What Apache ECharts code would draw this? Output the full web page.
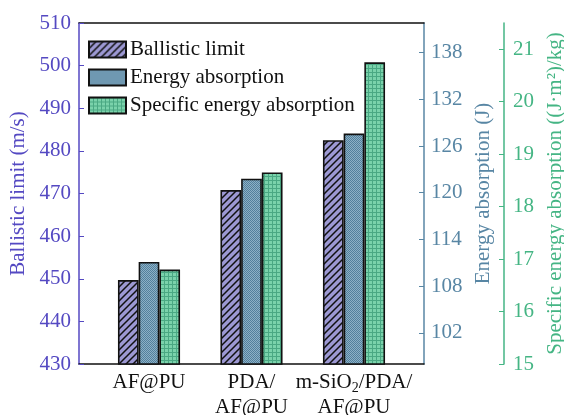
<!DOCTYPE html>
<html>
<head>
<meta charset="utf-8">
<script src="https://cdn.jsdelivr.net/npm/echarts@6/dist/echarts.min.js"></script>
<style>
  html, body { margin: 0; padding: 0; background: #fff; }
  #chart-container { width: 564px; height: 415px; }
</style>
</head>
<body>
<div id="chart-container"></div>
<script>
var categories = ['AF@PU', 'PDA/\nAF@PU', 'm-SiO2/PDA/\nAF@PU'];
var ballistic = [449.7, 470.8, 482.5];
var energy = [111.1, 121.8, 127.6];
var specific = [16.8, 18.65, 20.75];
var energyTicks = [102, 108, 114, 120, 126, 132, 138];
var specificTicks = [15, 16, 17, 18, 19, 20, 21];

var FONT = 'Liberation Serif, Times New Roman, serif';
var C_LEFT = '#5449c2';
var C_MID = '#5886a4';
var C_RIGHT = '#45b584';

// 填充图案
function makePattern(size, draw) {
  var c = document.createElement('canvas');
  c.width = size;
  c.height = size;
  draw(c.getContext('2d'), size);
  return { image: c, repeat: 'repeat' };
}

var hatch = makePattern(7, function (ctx, s) {
  ctx.fillStyle = '#9c98d3';
  ctx.fillRect(0, 0, s, s);
  ctx.strokeStyle = '#111';
  ctx.lineWidth = 1.5;
  ctx.beginPath();
  ctx.moveTo(-1, s + 1); ctx.lineTo(s + 1, -1);
  ctx.moveTo(-1, 1); ctx.lineTo(1, -1);
  ctx.moveTo(s - 1, s + 1); ctx.lineTo(s + 1, s - 1);
  ctx.stroke();
});

var dots = makePattern(2, function (ctx) {
  ctx.fillStyle = '#8db0c6';
  ctx.fillRect(0, 0, 2, 2);
  ctx.fillStyle = '#52809c';
  ctx.fillRect(0, 0, 1, 1);
  ctx.fillRect(1, 1, 1, 1);
});

var grid = makePattern(4, function (ctx) {
  ctx.fillStyle = '#7ad2ab';
  ctx.fillRect(0, 0, 4, 4);
  ctx.fillStyle = '#4aa883';
  ctx.fillRect(0, 0, 4, 1);
  ctx.fillRect(0, 0, 1, 4);
});

function pairs(arr) {
  return arr.map(function (v, i) { return [i, v]; });
}

var dom = document.getElementById('chart-container');
var myChart = echarts.init(dom);

var barBase = {
  type: 'bar',
  barWidth: 20.7,
  barGap: '0%',
  animation: false
};

myChart.setOption({
  backgroundColor: '#fff',
  textStyle: { fontFamily: FONT },
  grid: { left: 79, right: 140, top: 23, bottom: 51, outerBoundsMode: 'none', containLabel: false },
  legend: {
    orient: 'vertical',
    left: 83,
    top: 34,
    itemWidth: 37,
    itemHeight: 16,
    itemGap: 7,
    icon: 'rect',
    textStyle: { fontFamily: FONT, fontSize: 21, color: '#111', padding: [0, 0, 0, -1] },
    data: ['Ballistic limit', 'Energy absorption', 'Specific energy absorption']
  },
  xAxis: [
    {
      type: 'value',
      min: -0.683,
      max: 2.683,
      splitLine: { show: false },
      axisTick: { show: false },
      axisLine: { show: true, onZero: false, lineStyle: { color: '#111', width: 1.5 } },
      axisLabel: {
        customValues: [0, 1, 2],
        margin: 6,
        fontFamily: FONT,
        fontSize: 21,
        lineHeight: 25,
        color: '#111',
        formatter: function (v) {
          var s = categories[Math.round(v)] || '';
          return s.replace('SiO2', 'SiO{s|2}');
        },
        rich: {
          s: { fontFamily: FONT, fontSize: 14, lineHeight: 14, verticalAlign: 'bottom', color: '#111' }
        }
      }
    },
    {
      type: 'value',
      position: 'top',
      min: -0.683,
      max: 2.683,
      splitLine: { show: false },
      axisTick: { show: false },
      axisLabel: { show: false },
      axisLine: { show: true, onZero: false, lineStyle: { color: '#111', width: 1.5 } }
    }
  ],
  yAxis: [
    {
      type: 'value',
      position: 'left',
      min: 430,
      max: 510,
      interval: 10,
      name: 'Ballistic limit (m/s)',
      nameLocation: 'middle',
      nameRotate: 90,
      nameGap: 50,
      nameTextStyle: { fontFamily: FONT, fontSize: 21, color: C_LEFT },
      splitLine: { show: false },
      axisLine: { show: true, onZero: false, lineStyle: { color: C_LEFT, width: 1.5 } },
      axisTick: { show: true, inside: true, length: 5, lineStyle: { color: C_LEFT } },
      axisLabel: { margin: 8, fontFamily: FONT, fontSize: 21, color: C_LEFT }
    },
    {
      type: 'value',
      position: 'right',
      min: 98,
      max: 141.8,
      name: 'Energy absorption (J)',
      nameLocation: 'middle',
      nameRotate: 90,
      nameGap: 45,
      nameTextStyle: { fontFamily: FONT, fontSize: 21, color: C_MID },
      splitLine: { show: false },
      axisLine: { show: true, onZero: false, lineStyle: { color: C_MID, width: 1.5 } },
      axisTick: { show: true, inside: true, length: 5, customValues: energyTicks, lineStyle: { color: C_MID } },
      axisLabel: { margin: 7, customValues: energyTicks, fontFamily: FONT, fontSize: 21, color: C_MID }
    },
    {
      type: 'value',
      position: 'right',
      offset: 80,
      min: 15,
      max: 21.5,
      name: 'Specific energy absorption ((J·m²)/kg)',
      nameLocation: 'middle',
      nameRotate: 90,
      nameGap: 37,
      nameTextStyle: { fontFamily: FONT, fontSize: 21, color: C_RIGHT },
      splitLine: { show: false },
      axisLine: { show: true, onZero: false, lineStyle: { color: C_RIGHT, width: 1.5 } },
      axisTick: { show: true, inside: true, length: 5, customValues: specificTicks, lineStyle: { color: C_RIGHT } },
      axisLabel: { margin: 9, customValues: specificTicks, fontFamily: FONT, fontSize: 21, color: C_RIGHT }
    }
  ],
  series: [
    Object.assign({}, barBase, {
      name: 'Ballistic limit',
      yAxisIndex: 0,
      data: pairs(ballistic),
      itemStyle: { color: hatch, borderColor: '#111', borderWidth: 1.6 }
    }),
    Object.assign({}, barBase, {
      name: 'Energy absorption',
      yAxisIndex: 1,
      data: pairs(energy),
      itemStyle: { color: dots, borderColor: '#111', borderWidth: 1.6 }
    }),
    Object.assign({}, barBase, {
      name: 'Specific energy absorption',
      yAxisIndex: 2,
      data: pairs(specific),
      itemStyle: { color: grid, borderColor: '#111', borderWidth: 1.6 }
    })
  ]
});

window.addEventListener('resize', myChart.resize);
</script>
</body>
</html>
